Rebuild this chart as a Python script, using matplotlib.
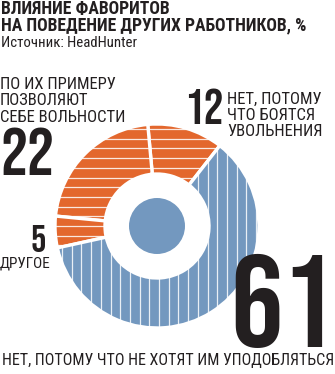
import matplotlib
matplotlib.use("Agg")
import numpy as np
import matplotlib.pyplot as plt
from matplotlib.collections import LineCollection
from matplotlib.font_manager import FontProperties
from matplotlib.textpath import TextPath

# --- data -------------------------------------------------------------
labels = ["НЕТ, ПОТОМУ\nЧТО БОЯТСЯ\nУВОЛЬНЕНИЯ",
          "ПО ИХ ПРИМЕРУ\nПОЗВОЛЯЮТ\nСЕБЕ ВОЛЬНОСТИ",
          "ДРУГОЕ",
          "НЕТ, ПОТОМУ ЧТО НЕ ХОТЯТ ИМ УПОДОБЛЯТЬСЯ"]
values = [12, 22, 5, 61]
title = "ВЛИЯНИЕ ФАВОРИТОВ\nНА ПОВЕДЕНИЕ ДРУГИХ РАБОТНИКОВ, %"
source = "Источник: HeadHunter"

ORANGE = "#E3672D"
BLUE = "#7398BF"
INK = "#231F20"
colors = [ORANGE, ORANGE, ORANGE, BLUE]

W, H, DPI = 335, 374, 100
TEXT_FONT = "Roboto Condensed"
NUM_FONT = "Bebas Neue"

fig = plt.figure(figsize=(W / DPI, H / DPI), dpi=DPI)
ax = fig.add_axes([0, 0, 1, 1])


def Y(y):
    """Convert a top-down pixel row into axes units."""
    return H - y


def ink(text, prop):
    return TextPath((0, 0), text, size=100, prop=prop).get_extents()


def fit_size(text, prop, width=None, height=None):
    """Point size whose ink box has the requested pixel width or height."""
    ext = ink(text, prop)
    span = ext.width if width is not None else ext.height
    target = width if width is not None else height
    return target * 100.0 / span * 72.0 / DPI


def spacing_for(prop, size_pt, gap_px):
    """Line spacing that puts baselines gap_px apart."""
    ext = ink("lp", prop)
    em = size_pt * DPI / 72.0 / 100.0
    above, below = ext.y1 * em, -ext.y0 * em
    return (gap_px - below) / above


# --- donut ------------------------------------------------------------
cx, cy = 157, Y(226)
R_OUT, R_IN, R_CORE = 102, 52, 28

wedges, _ = ax.pie(values, colors=colors, startangle=52, counterclock=True,
                   center=(cx, cy), radius=R_OUT, frame=True,
                   wedgeprops=dict(width=R_OUT - R_IN, edgecolor="white",
                                   linewidth=2.4))
ax.set_xlim(0, W)
ax.set_ylim(0, H)
ax.set_aspect("equal")
ax.axis("off")

# white stripes: horizontal on the orange slices, vertical on the blue one
step = 9.7
for w, c in zip(wedges, colors):
    segs = []
    if c == ORANGE:
        for k in np.arange(-11, 12):
            yy = cy + k * step
            segs.append([(cx - R_OUT, yy), (cx + R_OUT, yy)])
    else:
        for k in np.arange(-11, 12):
            xx = cx + 2 + k * step
            segs.append([(xx, cy - R_OUT), (xx, cy + R_OUT)])
    lc = LineCollection(segs, colors="white", linewidths=0.9, alpha=0.85)
    ax.add_collection(lc)
    lc.set_clip_path(w)

ax.add_patch(plt.Circle((cx, cy), R_CORE, color=BLUE, lw=0))

# --- texts ------------------------------------------------------------
f_bold = FontProperties(family=TEXT_FONT, weight="bold")
f_reg = FontProperties(family=TEXT_FONT, weight="normal")
f_num = FontProperties(family=NUM_FONT, weight="normal")

# multi-line texts are anchored at the baseline of their last line
s_title = fit_size(title.split("\n")[1], f_bold, width=304)
ax.text(1, Y(30.5), title, fontproperties=f_bold, fontsize=s_title,
        color=INK, ha="left", va="baseline",
        linespacing=spacing_for(f_bold, s_title, 15.5))
ax.text(1, Y(46.5), source, fontproperties=f_reg,
        fontsize=fit_size(source, f_reg, width=134), color=INK,
        ha="left", va="baseline")

# label: 22
s22 = fit_size(labels[1].split("\n")[2], f_reg, width=124)
ax.text(0, Y(122), labels[1], fontproperties=f_reg, fontsize=s22,
        color=INK, ha="left", va="baseline",
        linespacing=spacing_for(f_reg, s22, 17.7))
ax.text(0, Y(175), str(values[1]), fontproperties=f_num,
        fontsize=fit_size(str(values[1]), f_num, height=48), color=INK,
        ha="left", va="baseline")

# label: 12
s12 = fit_size(labels[0].split("\n")[2], f_reg, width=94)
ax.text(227, Y(136), labels[0], fontproperties=f_reg, fontsize=s12,
        color=INK, ha="left", va="baseline",
        linespacing=spacing_for(f_reg, s12, 17))
ax.text(223, Y(124), str(values[0]), fontproperties=f_num,
        fontsize=fit_size(str(values[0]), f_num, height=35), color=INK,
        ha="right", va="baseline")

# label: 5
ax.text(46, Y(252), str(values[2]), fontproperties=f_num,
        fontsize=fit_size(str(values[2]), f_num, height=27), color=INK,
        ha="right", va="baseline")
ax.text(0, Y(268), labels[2], fontproperties=f_reg,
        fontsize=fit_size(labels[2], f_reg, width=50), color=INK,
        ha="left", va="baseline")

# label: 61
ax.text(335, Y(347), str(values[3]), fontproperties=f_num,
        fontsize=fit_size(str(values[3]), f_num, height=94), color=INK,
        ha="right", va="baseline")
ax.text(2, Y(365), labels[3], fontproperties=f_reg,
        fontsize=fit_size(labels[3], f_reg, width=330), color=INK,
        ha="left", va="baseline")

fig.savefig("out.png", dpi=DPI, facecolor="white")
